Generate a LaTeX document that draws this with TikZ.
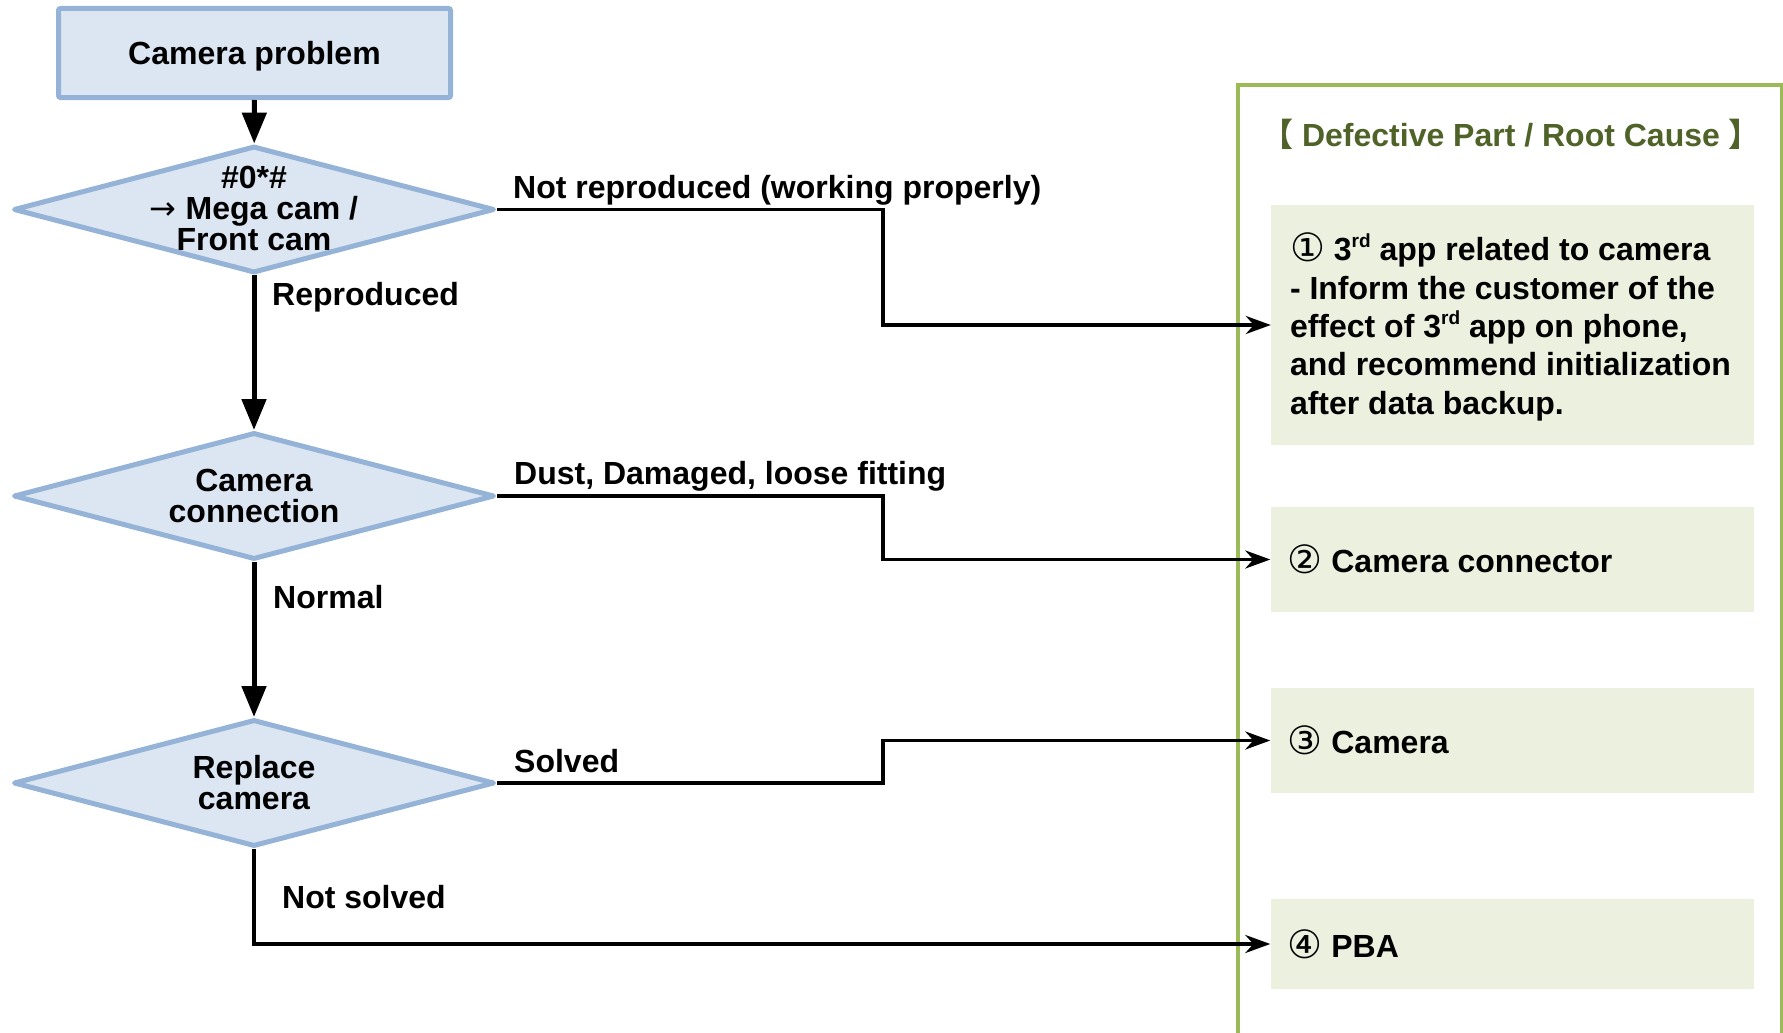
\documentclass[tikz,border=0pt]{standalone}
\usepackage{fontspec}
\setmainfont{Liberation Sans}
\newfontfamily\symfont{DejaVu Sans}
\newfontfamily\cjkfont{Noto Sans CJK SC}
\usetikzlibrary{shapes.geometric,arrows.meta}
\definecolor{qfill}{HTML}{DCE6F2}
\definecolor{qline}{HTML}{95B3D7}
\definecolor{causefill}{HTML}{EBF1DE}
\definecolor{frameline}{HTML}{9BBB59}
\definecolor{titlegreen}{HTML}{4F6228}
\newcommand{\circnum}[1]{{\symfont\mdseries\fontsize{39}{38}\selectfont\raisebox{-1pt}{#1}}}
\newcommand{\ordsup}[1]{\raisebox{0.42em}{\fontsize{19}{19}\selectfont #1}}
\begin{document}
\begin{tikzpicture}[x=1pt,y=-1pt,
  every node/.style={font=\fontsize{32}{38}\selectfont\bfseries, inner sep=0pt},
  startbox/.style={draw=qline, fill=qfill, line width=5pt, rounded corners=2pt,
    minimum width=392pt, minimum height=89pt},
  decision/.style={diamond, draw=qline, fill=qfill, line width=5pt, line join=round,
    minimum width=481pt, minimum height=127pt},
  qtext/.style={align=center, font=\fontsize{32}{31}\selectfont\bfseries},
  cause/.style={fill=causefill, minimum width=483pt},
  causetext/.style={anchor=west, align=left, font=\fontsize{32}{38.4}\selectfont\bfseries},
  elabel/.style={anchor=base west},
  mainflow/.style={line width=5pt, -{Triangle[length=31pt,width=24pt]}},
  branch/.style={line width=3.5pt, -{Stealth[length=25pt,width=18pt,inset=8pt]}},
]
\useasboundingbox (0,0) rectangle (1783,1033);

% right-hand panel listing the causes
\node[draw=frameline, line width=4pt, minimum width=544pt, minimum height=965pt,
  anchor=north west] (panel) at (1236,83) {};
\node[text=titlegreen] (title) at (1511,134)
  {{\cjkfont 【}\ Defective Part / Root Cause\ {\cjkfont 】}};

\node[cause, minimum height=240pt] (c1) at (1512.5,325) {};
\node[causetext] (c1t) at ([xshift=19pt,yshift=-2pt]c1.west)
  {\circnum{①} 3\ordsup{rd} app related to camera\\
   - Inform the customer of the\\
   effect of 3\ordsup{rd} app on phone,\\
   and recommend initialization\\
   after data backup.};
\node[cause, minimum height=105pt] (c2) at (1512,559.5) {};
\node[causetext] (c2t) at ([xshift=17pt]c2.west) {\circnum{②} Camera connector};
\node[cause, minimum height=105pt] (c3) at (1512,740.5) {};
\node[causetext] (c3t) at ([xshift=17pt]c3.west) {\circnum{③} Camera};
\node[cause, minimum height=90pt] (c4) at (1512,944) {};
\node[causetext] (c4t) at ([xshift=17pt]c4.west) {\circnum{④} PBA};

% flow of checks
\node[startbox] (start) at (254.5,53) {\raisebox{-11.5pt}[0pt][0pt]{Camera problem}};
\node[decision] (q1) at (254,209.5) {};
\node[qtext] (q1t) at (254,208) {\#0*\#\\{\symfont\mdseries →} Mega cam /\\Front cam};
\node[decision] (q2) at (254,496) {};
\node[qtext] (q2t) at (q2) {Camera\\connection};
\node[decision] (q3) at (254,783) {};
\node[qtext] (q3t) at (q3) {Replace\\camera};

\draw[mainflow] (start) -- (q1);
\draw[mainflow] (q1) -- (q2);
\draw[mainflow] (q2) -- (q3);

% branches to the causes
\coordinate (bend) at (883,0);
\draw[branch, line join=miter] (q1.east) -- (q1.east -| bend) -- (bend |- c1.west) -- (c1.west);
\draw[branch, line join=miter] (q2.east) -- (q2.east -| bend) -- (bend |- c2.west) -- (c2.west);
\draw[branch, line join=miter] (q3.east) -- (q3.east -| bend) -- (bend |- c3.west) -- (c3.west);
\draw[branch, line join=miter] (q3.south) |- (c4.west);

% branch labels
\node[elabel] (l1) at (513,198) {Not reproduced (working properly)};
\node[elabel] (l2) at (272,305) {Reproduced};
\node[elabel] (l3) at (514,484) {Dust, Damaged, loose fitting};
\node[elabel] (l4) at (273,608) {Normal};
\node[elabel] (l5) at (514,772) {Solved};
\node[elabel] (l6) at (282,908) {Not solved};
\end{tikzpicture}
\end{document}
